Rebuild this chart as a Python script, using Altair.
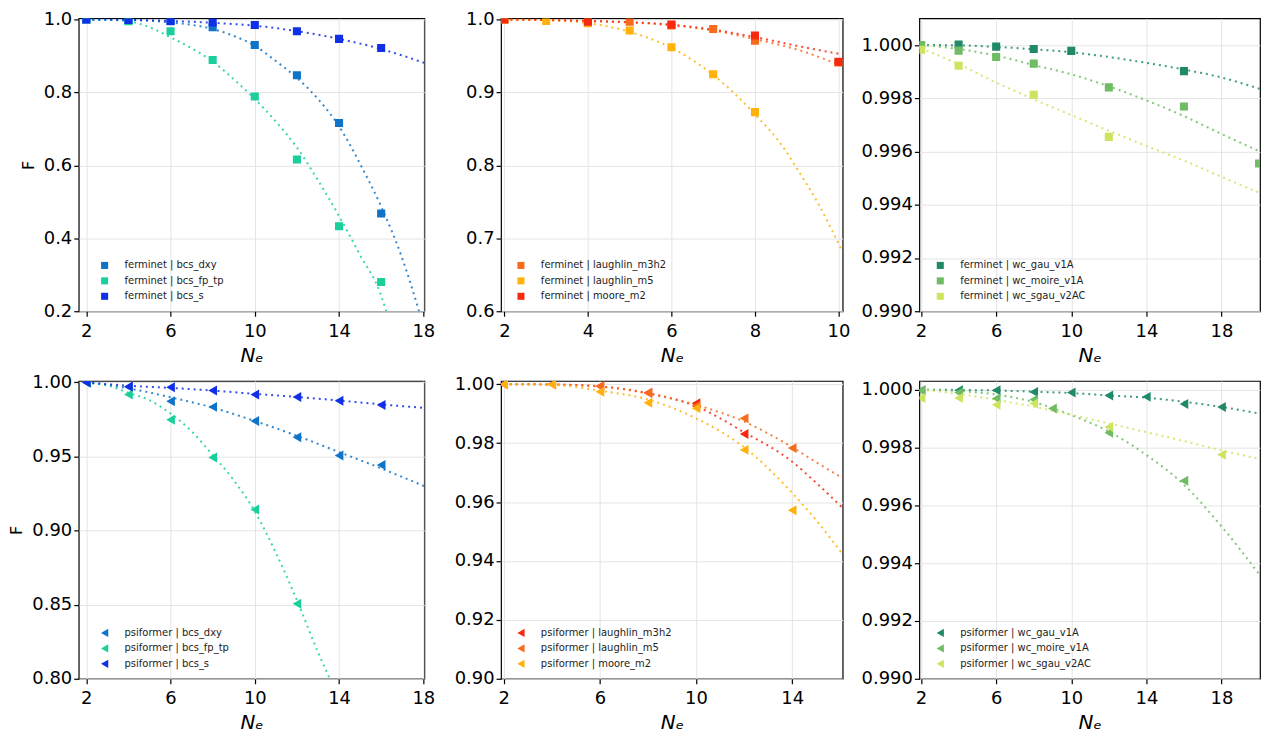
import pandas as pd
import altair as alt

FONT = "DejaVu Sans"

# ---------------- top row: ferminet ----------------
# bcs
F_BCS_NE = [2, 4, 6, 8, 10, 12, 14, 16]
F_BCS_DXY = [1.0, 0.998, 0.995, 0.979, 0.930, 0.847, 0.716, 0.468]
F_BCS_FPTP = [1.0, 0.995, 0.968, 0.889, 0.789, 0.616, 0.433, 0.280]
F_BCS_S = [1.0, 0.999, 0.996, 0.992, 0.985, 0.968, 0.947, 0.922]
F_BCS_DXY_FIT_NE = [2, 4, 6, 8, 9, 10, 11, 12, 13, 14, 15, 16, 17, 17.8]
F_BCS_DXY_FIT = [1.0, 0.999, 0.992, 0.974, 0.955, 0.928, 0.886, 0.840, 0.782, 0.707, 0.604, 0.487, 0.345, 0.2]
F_BCS_FPTP_FIT_NE = [2, 3, 4, 5, 6, 7, 8, 9, 10, 11, 12, 13, 14, 15, 16, 16.24]
F_BCS_FPTP_FIT = [1.0, 0.999, 0.995, 0.979, 0.951, 0.921, 0.885, 0.836, 0.782, 0.720, 0.649, 0.559, 0.461, 0.354, 0.243, 0.2]
F_BCS_S_FIT_NE = [2, 4, 6, 8, 10, 12, 14, 16, 18.05]
F_BCS_S_FIT = [1.0, 0.999, 0.996, 0.991, 0.983, 0.968, 0.947, 0.919, 0.881]

# laughlin / moore
F_M3H2_NE = [2, 4, 5, 6, 7, 8, 10]
F_M3H2 = [1.0, 0.998, 0.997, 0.992, 0.987, 0.971, 0.941]
F_M5_NE = [2, 3, 4, 5, 6, 7, 8]
F_M5 = [1.0, 0.998, 0.995, 0.985, 0.962, 0.925, 0.873]
F_MOORE_NE = [2, 4, 6, 8, 10]
F_MOORE = [1.0, 0.997, 0.993, 0.978, 0.942]
F_M3H2_FIT_NE = [2, 4, 6, 7, 8, 9, 10.1]
F_M3H2_FIT = [1.0, 0.998, 0.992, 0.985, 0.973, 0.959, 0.936]
F_M5_FIT_NE = [2, 3, 4, 5, 6, 7, 8, 8.7, 9, 9.5, 10.1]
F_M5_FIT = [1.0, 0.999, 0.995, 0.983, 0.961, 0.924, 0.870, 0.823, 0.796, 0.749, 0.681]
F_MOORE_FIT_NE = [2, 4, 6, 7, 8, 9, 10.1]
F_MOORE_FIT = [1.0, 0.998, 0.993, 0.986, 0.976, 0.964, 0.952]

# wigner crystals
F_WC_GAU_NE = [2, 4, 6, 8, 10, 16]
F_WC_GAU = [1.0, 1.00002, 0.99994, 0.99985, 0.99978, 0.99902]
F_WC_MOIRE_NE = [2, 4, 6, 8, 12, 16, 20]
F_WC_MOIRE = [1.0, 0.99979, 0.99955, 0.99930, 0.99841, 0.99769, 0.99555]
F_WC_SGAU_NE = [2, 4, 8, 12]
F_WC_SGAU = [0.99982, 0.99922, 0.99813, 0.99655]
F_WC_FIT_NE = [2, 4, 6, 8, 10, 12, 14, 16, 18, 20.05]
F_WC_GAU_FIT = [1.0, 0.99999, 0.99993, 0.99984, 0.99973, 0.99955, 0.99933, 0.99908, 0.99878, 0.99835]
F_WC_MOIRE_FIT = [1.0, 0.99985, 0.9996, 0.99925, 0.9989, 0.99845, 0.99792, 0.99733, 0.99666, 0.9960]
F_WC_SGAU_FIT = [0.99988, 0.99928, 0.99859, 0.99796, 0.99737, 0.99678, 0.99621, 0.99566, 0.99505, 0.99444]

# ---------------- bottom row: psiformer ----------------
P_BCS_NE = [2, 4, 6, 8, 10, 12, 14, 16]
P_BCS_DXY = [1.0, 0.997, 0.9873, 0.9835, 0.974, 0.963, 0.9507, 0.9443]
P_BCS_FPTP_NE = [2, 4, 6, 8, 10, 12]
P_BCS_FPTP = [1.0, 0.9918, 0.9748, 0.9494, 0.9142, 0.8506]
P_BCS_S = [1.0, 0.9973, 0.9967, 0.9946, 0.9918, 0.9902, 0.9877, 0.9848]
P_BCS_FIT_NE = [2, 4, 6, 8, 10, 12, 14, 16, 18.05]
P_BCS_DXY_FIT = [1.0, 0.996, 0.990, 0.983, 0.974, 0.964, 0.953, 0.942, 0.930]
P_BCS_S_FIT = [1.0, 0.9978, 0.9963, 0.9945, 0.9923, 0.9902, 0.9878, 0.9852, 0.9828]
P_BCS_FPTP_FIT_NE = [2, 3, 4, 5, 6, 7, 8, 9, 10, 11, 12, 13, 13.56]
P_BCS_FPTP_FIT = [1.0, 0.998, 0.993, 0.988, 0.979, 0.967, 0.951, 0.934, 0.913, 0.885, 0.853, 0.818, 0.80]

P_M3H2_NE = [2, 4, 6, 8, 10, 12]
P_M3H2 = [1.0, 1.0, 0.9993, 0.9971, 0.9935, 0.9831]
P_M5_NE = [2, 4, 6, 8, 10, 12, 14]
P_M5 = [1.0, 1.0, 0.9993, 0.997, 0.9926, 0.9884, 0.9783]
P_MOORE_NE = [2, 4, 6, 8, 10, 12, 14]
P_MOORE = [1.0, 0.9999, 0.9974, 0.9937, 0.9918, 0.9777, 0.9572]
P_QH_FIT_NE = [2, 4, 6, 8, 10, 12, 14, 15, 16.1]
P_M3H2_FIT = [1.0, 0.9999, 0.9992, 0.997, 0.9925, 0.9837, 0.9737, 0.9665, 0.958]
P_M5_FIT = [1.0, 0.9999, 0.9993, 0.9968, 0.993, 0.9873, 0.9786, 0.9735, 0.9681]
P_MOORE_FIT = [1.0, 0.9998, 0.9978, 0.9948, 0.9884, 0.9786, 0.9631, 0.9538, 0.9422]

P_WC_GAU_NE = [2, 4, 6, 8, 10, 12, 14, 16, 18]
P_WC_GAU = [0.99998, 0.99998, 0.99998, 0.99992, 0.9999, 0.9998, 0.99975, 0.9995, 0.9994]
P_WC_MOIRE_NE = [2, 4, 6, 8, 9, 12, 16]
P_WC_MOIRE = [0.99997, 0.9999, 0.99969, 0.99966, 0.99935, 0.99851, 0.99685]
P_WC_SGAU_NE = [2, 4, 6, 8, 12, 18]
P_WC_SGAU = [0.99971, 0.99971, 0.99948, 0.99952, 0.99871, 0.99775]
P_WC_FIT_NE = [2, 4, 6, 8, 10, 12, 14, 16, 18, 20.05]
P_WC_GAU_FIT = [1.0, 0.99999, 0.99997, 0.99993, 0.99988, 0.9998, 0.99972, 0.99958, 0.9994, 0.99917]
P_WC_MOIRE_FIT = [1.0, 0.99995, 0.99983, 0.99957, 0.99912, 0.99855, 0.99774, 0.99671, 0.99527, 0.99358]
P_WC_SGAU_FIT = [1.0, 0.99985, 0.99965, 0.99941, 0.99913, 0.99883, 0.99853, 0.99822, 0.9979, 0.9976]

# colours
C_DXY, C_FPTP, C_S = "#0f73c8", "#1bcf9c", "#1030e8"
C_ORANGE, C_AMBER, C_RED = "#f86a1c", "#ffb20c", "#f72a10"
C_GAU, C_MOIRE, C_SGAU = "#20896a", "#6fbc64", "#cce45e"


def table(names, xs_list, ys_list):
    rows = []
    for name, xs, ys in zip(names, xs_list, ys_list):
        for x, y in zip(xs, ys):
            rows.append({"Ne": x, "F": y, "series": name})
    return pd.DataFrame(rows)


def panel(names, pts, fits, colors, shape, xdom, xticks, ydom, yticks, yfmt,
          width, height, legend_x, ytitle=None):
    xenc = alt.X("Ne:Q", scale=alt.Scale(domain=xdom, nice=False, zero=False),
                 axis=alt.Axis(values=xticks, format="d", title="Nₑ"))
    yenc = alt.Y("F:Q", scale=alt.Scale(domain=ydom, nice=False, zero=False),
                 axis=alt.Axis(values=yticks, format=yfmt, title=ytitle))
    cscale = alt.Scale(domain=names, range=colors)
    tri = shape != "square"

    lines = alt.Chart(fits).mark_line(
        strokeDash=[2, 4], strokeWidth=2, opacity=0.85, clip=True, interpolate="monotone"
    ).encode(x=xenc, y=yenc, detail="series:N",
             color=alt.Color("series:N", scale=cscale, legend=None))

    points = alt.Chart(pts).mark_point(
        shape=shape, filled=True, size=100 if tri else 66, opacity=1, clip=True
    ).encode(x=xenc, y=yenc,
             color=alt.Color("series:N", scale=cscale, sort=names,
                             legend=alt.Legend(title=None, orient="none", legendX=legend_x,
                                               legendY=height - 51,
                                               symbolType=shape, symbolSize=70 if tri else 50,
                                               symbolStrokeWidth=0,
                                               labelFont=FONT, labelFontSize=10, labelColor="#222",
                                               labelOffset=15, rowPadding=5.5, padding=0)))

    return alt.layer(lines, points).resolve_scale(color="independent").properties(width=width, height=height)


TOP_H, BOTTOM_H = 294, 299

# top row
n1 = ["ferminet | bcs_dxy", "ferminet | bcs_fp_tp", "ferminet | bcs_s"]
p1 = panel(n1,
           table(n1, [F_BCS_NE] * 3, [F_BCS_DXY, F_BCS_FPTP, F_BCS_S]),
           table(n1, [F_BCS_DXY_FIT_NE, F_BCS_FPTP_FIT_NE, F_BCS_S_FIT_NE],
                 [F_BCS_DXY_FIT, F_BCS_FPTP_FIT, F_BCS_S_FIT]),
           [C_DXY, C_FPTP, C_S], "square", [1.64, 18.05], [2, 6, 10, 14, 18],
           [0.2, 1.003], [0.2, 0.4, 0.6, 0.8, 1.0], ".1f", 347, TOP_H, 21, ytitle="F")

n2 = ["ferminet | laughlin_m3h2", "ferminet | laughlin_m5", "ferminet | moore_m2"]
p2 = panel(n2,
           table(n2, [F_M3H2_NE, F_M5_NE, F_MOORE_NE], [F_M3H2, F_M5, F_MOORE]),
           table(n2, [F_M3H2_FIT_NE, F_M5_FIT_NE, F_MOORE_FIT_NE], [F_M3H2_FIT, F_M5_FIT, F_MOORE_FIT]),
           [C_ORANGE, C_AMBER, C_RED], "square", [1.92, 10.1], [2, 4, 6, 8, 10],
           [0.6, 1.0015], [0.6, 0.7, 0.8, 0.9, 1.0], ".1f", 343, TOP_H, 15)

n3 = ["ferminet | wc_gau_v1A", "ferminet | wc_moire_v1A", "ferminet | wc_sgau_v2AC"]
p3 = panel(n3,
           table(n3, [F_WC_GAU_NE, F_WC_MOIRE_NE, F_WC_SGAU_NE], [F_WC_GAU, F_WC_MOIRE, F_WC_SGAU]),
           table(n3, [F_WC_FIT_NE] * 3, [F_WC_GAU_FIT, F_WC_MOIRE_FIT, F_WC_SGAU_FIT]),
           [C_GAU, C_MOIRE, C_SGAU], "square", [1.91, 20.05], [2, 6, 10, 14, 18],
           [0.990, 1.001], [0.990, 0.992, 0.994, 0.996, 0.998, 1.000], ".3f", 342, TOP_H, 16)

# bottom row
n4 = ["psiformer | bcs_dxy", "psiformer | bcs_fp_tp", "psiformer | bcs_s"]
p4 = panel(n4,
           table(n4, [P_BCS_NE, P_BCS_FPTP_NE, P_BCS_NE], [P_BCS_DXY, P_BCS_FPTP, P_BCS_S]),
           table(n4, [P_BCS_FIT_NE, P_BCS_FPTP_FIT_NE, P_BCS_FIT_NE],
                 [P_BCS_DXY_FIT, P_BCS_FPTP_FIT, P_BCS_S_FIT]),
           [C_DXY, C_FPTP, C_S], "triangle-left", [1.64, 18.05], [2, 6, 10, 14, 18],
           [0.8, 1.001], [0.80, 0.85, 0.90, 0.95, 1.00], ".2f", 347, BOTTOM_H, 21, ytitle="F")

n5 = ["psiformer | laughlin_m3h2", "psiformer | laughlin_m5", "psiformer | moore_m2"]
p5 = panel(n5,
           table(n5, [P_M3H2_NE, P_M5_NE, P_MOORE_NE], [P_M3H2, P_M5, P_MOORE]),
           table(n5, [P_QH_FIT_NE] * 3, [P_M3H2_FIT, P_M5_FIT, P_MOORE_FIT]),
           [C_RED, C_ORANGE, C_AMBER], "triangle-left", [1.89, 16.1], [2, 6, 10, 14],
           [0.9, 1.0011], [0.90, 0.92, 0.94, 0.96, 0.98, 1.00], ".2f", 343, BOTTOM_H, 15)

n6 = ["psiformer | wc_gau_v1A", "psiformer | wc_moire_v1A", "psiformer | wc_sgau_v2AC"]
p6 = panel(n6,
           table(n6, [P_WC_GAU_NE, P_WC_MOIRE_NE, P_WC_SGAU_NE], [P_WC_GAU, P_WC_MOIRE, P_WC_SGAU]),
           table(n6, [P_WC_FIT_NE] * 3, [P_WC_GAU_FIT, P_WC_MOIRE_FIT, P_WC_SGAU_FIT]),
           [C_GAU, C_MOIRE, C_SGAU], "triangle-left", [1.91, 20.05], [2, 6, 10, 14, 18],
           [0.990, 1.0003], [0.990, 0.992, 0.994, 0.996, 0.998, 1.000], ".3f", 342, BOTTOM_H, 16)

chart = alt.concat(
    p1, p2, p3, p4, p5, p6, columns=3, bounds="flush", spacing={"row": 70, "column": 77}
).resolve_scale(
    color="independent"
).properties(
    padding=0
).configure_view(
    stroke="black", strokeWidth=1.2
).configure_axis(
    domain=False, grid=True, gridColor="#e4e4e4", gridWidth=1,
    tickColor="black", tickWidth=1.2, tickSize=5,
    labelFont=FONT, labelFontSize=18, labelColor="black", labelFlush=False,
    titleFont=FONT, titleColor="black", titleFontWeight="normal"
).configure_axisX(
    titleFontSize=20, titleFontStyle="italic", labelPadding=6, titlePadding=5
).configure_axisY(
    titleFontSize=16, labelPadding=2, titlePadding=7
)

chart.save("out.html", embed_options={"renderer": "svg", "actions": False})
